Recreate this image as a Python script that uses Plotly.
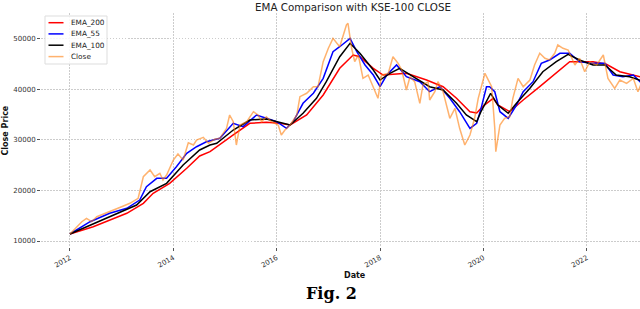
import plotly.graph_objects as go

# ---- data (decimal years, index level) ----
close_year = [2012.00, 2012.16, 2012.23, 2012.32, 2012.42, 2012.52, 2012.65, 2012.77, 2012.88, 2013.00,
              2013.16, 2013.32, 2013.42, 2013.55, 2013.64, 2013.74, 2013.80, 2013.87, 2014.00, 2014.09,
              2014.19, 2014.29, 2014.39, 2014.45, 2014.58, 2014.68, 2014.80, 2014.90, 2015.03, 2015.09,
              2015.16, 2015.22, 2015.29, 2015.42, 2015.55, 2015.64, 2015.71, 2015.80, 2015.90, 2016.03,
              2016.09, 2016.16, 2016.26, 2016.39, 2016.45, 2016.58, 2016.71, 2016.80, 2016.90, 2017.00,
              2017.09, 2017.22, 2017.35, 2017.38, 2017.45, 2017.51, 2017.58, 2017.67, 2017.77, 2017.87,
              2017.96, 2018.03, 2018.16, 2018.25, 2018.35, 2018.42, 2018.51, 2018.58, 2018.67, 2018.77,
              2018.83, 2018.93, 2018.96, 2019.06, 2019.12, 2019.22, 2019.35, 2019.45, 2019.54, 2019.64,
              2019.74, 2019.83, 2019.90, 2020.03, 2020.12, 2020.16, 2020.22, 2020.24, 2020.32, 2020.41,
              2020.51, 2020.57, 2020.67, 2020.77, 2020.90, 2020.99, 2021.09, 2021.19, 2021.28, 2021.38,
              2021.44, 2021.54, 2021.64, 2021.77, 2021.86, 2021.96, 2022.06, 2022.19, 2022.32, 2022.41,
              2022.54, 2022.64, 2022.77, 2022.90, 2022.99, 2023.05]
close_val = [11380, 13160, 13810, 14480, 13820, 14800, 15300, 15800, 16200, 16780,
             17450, 18440, 22700, 24030, 22700, 23380, 22050, 23040, 26000, 27190,
             26000, 29420, 28970, 29960, 30490, 29300, 30100, 30290, 32270, 34900,
             33580, 28970, 32920, 33580, 35550, 34900, 33580, 34560, 33580, 32920,
             30950, 31930, 32920, 34900, 38520, 39190, 40490, 40490, 45430, 48080,
             50050, 48390, 52700, 53020, 48080, 45430, 46750, 42140, 42800, 40490,
             38200, 42800, 43140, 46420, 45110, 43790, 39840, 42470, 41480, 37210,
             40830, 41480, 37860, 39500, 41480, 39500, 34250, 36220, 32270, 28970,
             30950, 34250, 38200, 43140, 41480, 40490, 32270, 27650, 32920, 34250,
             34570, 38200, 42140, 40490, 41810, 44780, 47090, 46100, 45770, 47090,
             48730, 48080, 47740, 44780, 46100, 43450, 45430, 44780, 46750, 42140,
             40170, 41810, 41160, 42140, 39500, 41000]

ema200_year = [2012.00, 2012.45, 2013.10, 2013.42, 2013.61, 2013.93, 2014.26, 2014.51, 2014.71, 2014.84,
               2015.16, 2015.48, 2015.80, 2016.06, 2016.26, 2016.58, 2016.90, 2017.22, 2017.42, 2017.48,
               2017.61, 2017.87, 2018.06, 2018.51, 2018.90, 2019.22, 2019.48, 2019.74, 2019.87, 2020.00,
               2020.19, 2020.28, 2020.51, 2020.77, 2021.09, 2021.41, 2021.67, 2021.86, 2022.12, 2022.38,
               2022.64, 2023.05]
ema200_val = [11380, 12830, 15470, 17450, 19430, 21400, 24370, 26800, 27650, 28630,
              30950, 33260, 33450, 33260, 32920, 34900, 38850, 44130, 46100, 46750,
              46420, 44130, 42800, 43140, 41810, 40490, 38200, 35550, 35300, 36700,
              38200, 36870, 35550, 37860, 40490, 43140, 45430, 45430, 45430, 44920,
              43450, 42400]

ema55_year = [2012.00, 2012.39, 2012.77, 2013.10, 2013.35, 2013.48, 2013.68, 2013.87, 2014.06, 2014.26,
              2014.45, 2014.64, 2014.90, 2015.16, 2015.35, 2015.61, 2015.80, 2016.00, 2016.19, 2016.32,
              2016.51, 2016.71, 2016.90, 2017.09, 2017.22, 2017.42, 2017.55, 2017.71, 2017.87, 2018.00,
              2018.13, 2018.32, 2018.51, 2018.77, 2018.96, 2019.16, 2019.35, 2019.54, 2019.74, 2019.87,
              2019.95, 2020.06, 2020.12, 2020.22, 2020.32, 2020.48, 2020.64, 2020.77, 2020.96, 2021.12,
              2021.28, 2021.48, 2021.67, 2021.86, 2022.12, 2022.35, 2022.51, 2022.70, 2022.90, 2023.05]
ema55_val = [11380, 13810, 15470, 16460, 18100, 20730, 22390, 22390, 24680, 27330,
             28630, 29620, 30290, 33260, 32590, 34900, 34250, 33580, 32270, 33580,
             37210, 39190, 42140, 47410, 48390, 50050, 47410, 44780, 42800, 40490,
             42800, 44780, 42470, 41480, 39500, 40490, 38200, 35550, 32270, 33260,
             36000, 40490, 40490, 39500, 35550, 34250, 36870, 39500, 41480, 45110,
             45770, 47090, 47090, 45430, 45110, 45110, 42800, 42470, 42800, 41300]

ema100_year = [2012.00, 2012.77, 2013.29, 2013.55, 2013.87, 2014.19, 2014.51, 2014.71, 2014.84, 2015.16,
               2015.48, 2015.80, 2016.06, 2016.26, 2016.51, 2016.77, 2016.96, 2017.22, 2017.42, 2017.61,
               2017.87, 2018.00, 2018.19, 2018.38, 2018.64, 2018.96, 2019.22, 2019.48, 2019.67, 2019.87,
               2019.95, 2020.14, 2020.28, 2020.48, 2020.64, 2020.90, 2021.15, 2021.41, 2021.64, 2021.86,
               2022.12, 2022.35, 2022.57, 2022.83, 2023.05]
ema100_val = [11380, 14800, 17110, 19740, 21400, 25020, 27990, 28970, 29300, 31930,
              33910, 34110, 33450, 32920, 35230, 38200, 41480, 46420, 49060, 47090,
              43790, 41810, 43140, 44130, 42470, 40490, 39840, 37210, 34900, 33580,
              35500, 39180, 36870, 35230, 37210, 40170, 43450, 45430, 46890, 45770,
              44780, 44780, 42800, 42470, 41700]

series_names = ["EMA_200", "EMA_55", "EMA_100", "Close"]
x_ticks = [2012, 2014, 2016, 2018, 2020, 2022]
x_tick_labels = ["2012", "2014", "2016", "2018", "2020", "2022"]
y_ticks = [10000, 20000, 30000, 40000, 50000]
y_tick_labels = ["10000", "20000", "30000", "40000", "50000"]

# ---- styling ----
W, H = 640, 309
PL, PR, PT, PB = 41, 640, 13, 247          # plot area in pixels
colors = ["#ff0000", "#0000ff", "#000000", "rgba(255,127,14,0.6)"]
font_main = "DejaVu Sans"
grid = dict(showgrid=True, gridcolor="#cccccc", griddash="1.5px,1.5px", gridwidth=0.7)


def px_x(px):
    return (px - PL) / (PR - PL)


def px_y(py):
    return (PB - py) / (PB - PT)


fig = go.Figure()
for name, xs, ys, col in zip(series_names,
                             [ema200_year, ema55_year, ema100_year, close_year],
                             [ema200_val, ema55_val, ema100_val, close_val],
                             colors):
    fig.add_trace(go.Scatter(x=xs, y=ys, mode="lines", name=name,
                             line=dict(color=col, width=1.5), showlegend=False))

# custom legend (compact, matplotlib-like)
shapes = [dict(type="rect", xref="paper", yref="paper",
               x0=px_x(45), x1=px_x(107), y0=px_y(64), y1=px_y(16),
               line=dict(color="#dddddd", width=1), fillcolor="rgba(255,255,255,0.85)", layer="above")]
annotations = []
row_y = [22.7, 33.9, 45.2, 56.6]
for name, col, ry in zip(series_names, colors, row_y):
    shapes.append(dict(type="line", xref="paper", yref="paper",
                       x0=px_x(48.5), x1=px_x(63.5), y0=px_y(ry), y1=px_y(ry),
                       line=dict(color=col, width=1.5), layer="above"))
    annotations.append(dict(text=name, xref="paper", yref="paper", x=px_x(69), y=px_y(ry),
                            xanchor="left", yanchor="middle", showarrow=False,
                            font=dict(family=font_main, size=7.3, color="#222")))

annotations += [
    dict(text="<b>Date</b>", xref="paper", yref="paper", x=px_x(355), y=px_y(275),
         xanchor="center", yanchor="middle", showarrow=False,
         font=dict(family=font_main, size=8, color="#111")),
    dict(text="<b>Close Price</b>", xref="paper", yref="paper", x=px_x(4.5), y=px_y(131),
         xanchor="center", yanchor="middle", textangle=-90, showarrow=False,
         font=dict(family=font_main, size=8, color="#111")),
    dict(text="<b>Fig. 2</b>", xref="paper", yref="paper", x=px_x(331), y=px_y(293),
         xanchor="center", yanchor="middle", showarrow=False,
         font=dict(family="DejaVu Serif", size=16, color="#000")),
]

fig.update_layout(
    width=W, height=H,
    margin=dict(l=PL, r=W - PR, t=PT, b=H - PB, autoexpand=False),
    paper_bgcolor="white", plot_bgcolor="white",
    font=dict(family=font_main, size=7, color="#333"),
    title=dict(text="EMA Comparison with KSE-100 CLOSE", x=353 / W, xanchor="center",
               y=1 - 7 / H, yanchor="middle", xref="container", yref="container",
               font=dict(family=font_main, size=10.3, color="#222")),
    showlegend=False,
    xaxis=dict(range=[2011.44, 2023.03], tickmode="array", tickvals=x_ticks, ticktext=x_tick_labels,
               tickangle=-30, zeroline=False, showline=False, ticks="outside", ticklen=3,
               tickcolor="#555", tickfont=dict(size=7, color="#333"), **grid),
    yaxis=dict(range=[8814, 55053], tickmode="array", tickvals=y_ticks, ticktext=y_tick_labels,
               zeroline=False, showline=False, ticks="outside", ticklen=3,
               tickcolor="#555", tickfont=dict(size=7, color="#333"), **grid),
    shapes=shapes,
    annotations=annotations,
)

fig.write_html("out.html", config={"displayModeBar": False},
               post_script="document.body.style.margin='0';")
